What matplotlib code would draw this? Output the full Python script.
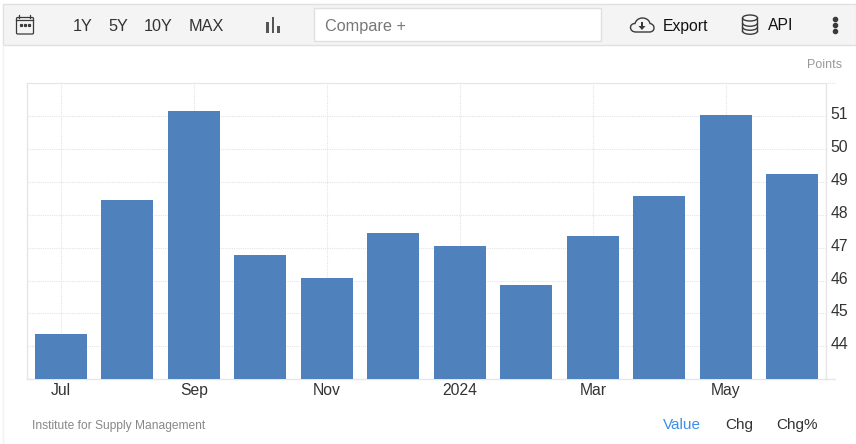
import matplotlib
matplotlib.use("Agg")
import matplotlib.pyplot as plt
from matplotlib.patches import Rectangle, Ellipse, Polygon, FancyBboxPatch, Arc, PathPatch
from matplotlib.path import Path
from matplotlib.ticker import FixedLocator, NullLocator
from matplotlib.transforms import ScaledTranslation

plt.rcParams['font.family'] = ['Liberation Sans', 'DejaVu Sans']

W, H = 856, 444

months = ['Jul', 'Aug', 'Sep', 'Oct', 'Nov', 'Dec', 'Jan', 'Feb', 'Mar', 'Apr', 'May', 'Jun']
values = [44.37, 48.44, 51.16, 46.78, 46.08, 47.45, 47.06, 45.86, 47.36, 48.57, 51.04, 49.24]
x_labels = ['Jul', 'Sep', 'Nov', '2024', 'Mar', 'May']
x_label_pos = [0, 2, 4, 6, 8, 10]
y_ticks = [44, 45, 46, 47, 48, 49, 50, 51]
range_buttons = ['1Y', '5Y', '10Y', 'MAX']
range_button_x = [82.5, 118.5, 158.5, 206]
footer_tabs = ['Value', 'Chg', 'Chg%']
footer_tab_x = [681.5, 739.5, 797]
footer_tab_colors = ['#3d8ee8', '#333333', '#333333']

BAR_COLOR = '#4f81bd'
GRID_COLOR = '#e4e4e4'
AXIS_COLOR = '#e6e6e6'
TEXT_COLOR = '#333333'
ICON_COLOR = '#3a3a3a'


def pixel_axes(fig):
    """Overlay axes that uses the pixels of the picture, y going down"""
    ax = fig.add_axes([0, 0, 1, 1], zorder=0)
    ax.set_xlim(0, W)
    ax.set_ylim(H, 0)
    ax.axis('off')
    return ax


def draw_cloud(ax):
    verts = [(636, 32), (632, 32), (630.5, 29.5), (630.5, 27.5),
             (630.5, 25), (632.5, 23.5), (635, 23.5),
             (636, 20), (639, 18), (642.5, 18),
             (646.5, 18), (649.5, 20.5), (650, 23.5),
             (652.5, 24), (654, 25.5), (654, 28),
             (654, 30.5), (652, 32), (649.5, 32),
             (636, 32)]
    codes = [Path.MOVETO] + [Path.CURVE4] * 18 + [Path.LINETO]
    ax.add_patch(PathPatch(Path(verts, codes), fc='none', ec=ICON_COLOR, lw=1))
    ax.add_patch(Polygon([[638.5, 26], [645.5, 26], [642, 30]], fc=ICON_COLOR, ec='none'))
    ax.add_patch(Rectangle((640.8, 22.5), 2.4, 4, fc=ICON_COLOR, ec='none'))


def draw_database(ax):
    ax.plot([742.5, 742.5], [18, 31], color=ICON_COLOR, lw=1)
    ax.plot([757.5, 757.5], [18, 31], color=ICON_COLOR, lw=1)
    ax.add_patch(Ellipse((750, 18), 15, 6, fc='none', ec=ICON_COLOR, lw=1))
    # y axis is inverted here, so 0-180 is the lower half of each arc
    for y in [23, 27, 31]:
        ax.add_patch(Arc((750, y), 15, 6.5, theta1=0, theta2=180, ec=ICON_COLOR, lw=1))


def draw_toolbar(ax):
    ax.add_patch(Rectangle((3.5, 4.5), W - 3.5, 40.5, fc='#f4f4f4', ec='#e0e0e0', lw=1))
    ax.plot([3.5, 3.5], [45, H], color='#f2f2f2', lw=1)
    ax.add_patch(Rectangle((314.5, 8.5), 287, 33, fc='white', ec='#e0e0e0', lw=1, zorder=2))
    ax.text(325, 26, 'Compare +', fontsize=11.7, color='#777777', va='center', ha='left', zorder=3)
    for label, x in zip(range_buttons, range_button_x):
        ax.text(x, 26.5, label, fontsize=11.7, color=TEXT_COLOR, va='center', ha='center')
    ax.text(663, 26, 'Export', fontsize=11.3, color='#111111', va='center', ha='left')
    ax.text(768, 26, 'API', fontsize=11.3, color='#111111', va='center', ha='left')

    # calendar icon
    ax.add_patch(FancyBboxPatch((16.5, 17.5), 17, 16.5, boxstyle='round,pad=0,rounding_size=1.2',
                                fc='none', ec=ICON_COLOR, lw=0.9))
    ax.plot([16.5, 33.5], [20.5, 20.5], color=ICON_COLOR, lw=0.9)
    ax.plot([19.5, 19.5], [15, 18], color=ICON_COLOR, lw=0.9)
    ax.plot([30, 30], [15, 18], color=ICON_COLOR, lw=0.9)
    ax.plot([21, 25, 29], [25, 25, 25], ls='none', marker='s', ms=1.3, color=ICON_COLOR)

    # bar chart icon
    ax.add_patch(Rectangle((266, 21.7), 2.7, 11, fc='#555555', ec='none'))
    ax.add_patch(Rectangle((271.7, 16.7), 2.7, 16, fc='#555555', ec='none'))
    ax.add_patch(Rectangle((277.2, 25.7), 2.7, 7, fc='#555555', ec='none'))

    draw_cloud(ax)
    draw_database(ax)

    # dots menu
    ax.plot([835, 835, 835], [19, 25, 31], ls='none', marker='o', ms=3, color=ICON_COLOR)


def draw_footer(ax):
    ax.text(842.5, 64.5, 'Points', fontsize=9, color='#999999', va='center', ha='right')
    ax.text(32, 425.5, 'Institute for Supply Management', fontsize=8.65, color='#888888', va='center', ha='left')
    for label, x, color in zip(footer_tabs, footer_tab_x, footer_tab_colors):
        ax.text(x, 425, label, fontsize=11, color=color, va='center', ha='center')
    # axis lines run a little past the plot on the right
    ax.plot([825, 835], [83.5, 83.5], color=GRID_COLOR, lw=0.8, ls=(0, (1, 1)))
    ax.plot([825, 835], [379, 379], color=AXIS_COLOR, lw=1)


fig = plt.figure(figsize=(W / 100, H / 100), dpi=100)
bg = pixel_axes(fig)
draw_toolbar(bg)
draw_footer(bg)

L, R, T, B = 27.5, 825.5, 83.5, 379
ax = fig.add_axes([L / W, 1 - B / H, (R - L) / W, (B - T) / H], zorder=1)
ax.patch.set_alpha(0)
ax.bar(range(len(months)), values, width=0.78, color=BAR_COLOR, zorder=3)
ax.set_xlim(-0.501, 11.499)
ax.set_ylim(43, 52)

ax.xaxis.set_major_locator(FixedLocator(x_label_pos))
ax.set_xticklabels(x_labels)
ax.yaxis.set_major_locator(FixedLocator(y_ticks))
ax.yaxis.tick_right()
ax.yaxis.set_minor_locator(NullLocator())
ax.tick_params(axis='both', length=0, labelsize=11.3, labelcolor=TEXT_COLOR)
ax.tick_params(axis='x', pad=3)
ax.tick_params(axis='y', pad=3.5)
ax.grid(True, color=GRID_COLOR, lw=0.8, ls=(0, (1, 1)), zorder=0)
ax.set_axisbelow(True)

# the y labels sit about 3 px above their gridlines
lift = ScaledTranslation(0, 3 / 100, fig.dpi_scale_trans)
for label in ax.get_yticklabels():
    label.set_transform(label.get_transform() + lift)

for side in ['left', 'right', 'bottom']:
    ax.spines[side].set_color(AXIS_COLOR)
    ax.spines[side].set_linewidth(1)
ax.spines['top'].set_color(GRID_COLOR)
ax.spines['top'].set_linewidth(0.8)
ax.spines['top'].set_linestyle((0, (1, 1)))

fig.savefig('out.png', dpi=100)
